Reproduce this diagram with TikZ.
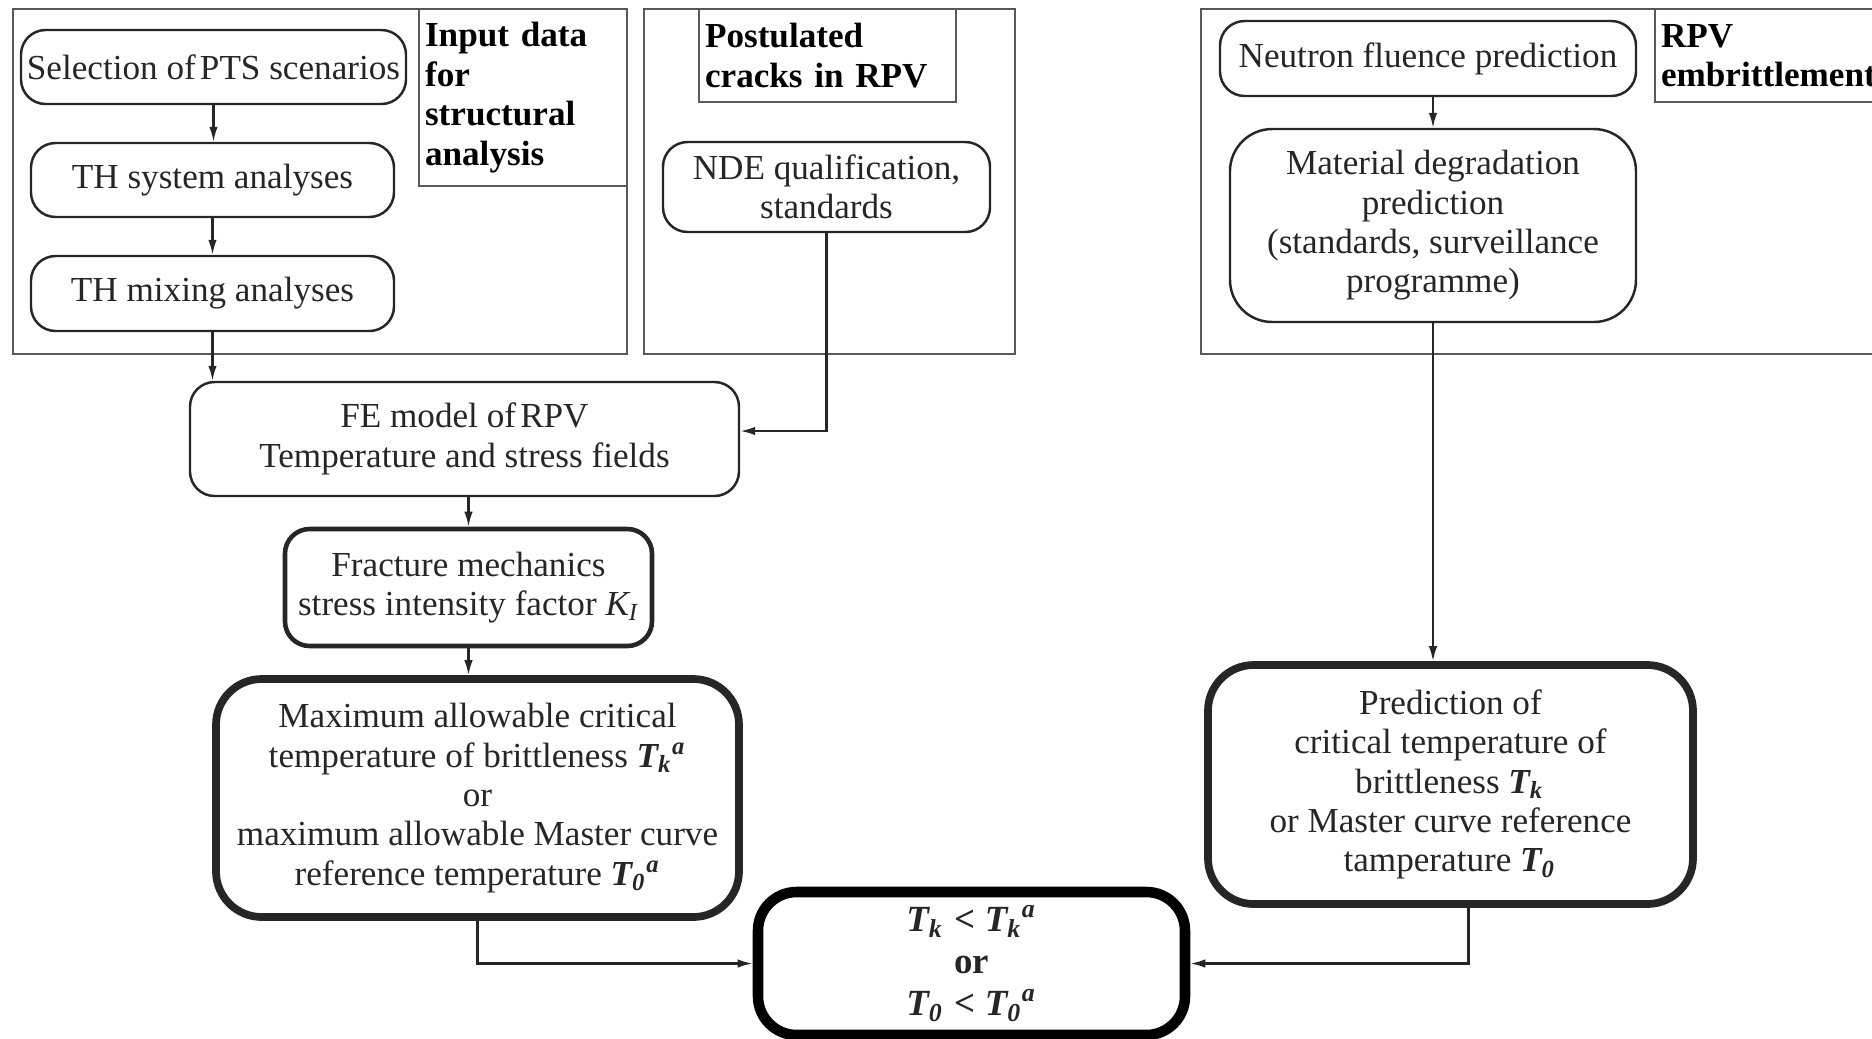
\documentclass[tikz,border=0pt]{standalone}
\usepackage{fontspec}
\setmainfont{Liberation Serif}
\usetikzlibrary{arrows.meta}

\newcommand{\tsym}[2]{\textbf{\textit{T\textsubscript{#1}\textsuperscript{#2}}}}

\tikzset{
  frame/.style={draw=black!65, line width=0.6pt, inner sep=0pt, anchor=north west},
  tag/.style={draw=black!65, line width=0.6pt, anchor=north west, align=left,
    inner xsep=0.06cm, inner ysep=0pt, font=\fontsize{10}{11.3}\selectfont\bfseries},
  procbox/.style={draw=black!85, line width=0.7pt, rounded corners=7pt, align=center,
    inner sep=1pt, text=black!85, font=\fontsize{10}{11.2}\selectfont},
  fmbox/.style={procbox, line width=1.3pt},
  keybox/.style={procbox, line width=2.2pt, rounded corners=13pt},
  resbox/.style={procbox, line width=3pt, rounded corners=11pt, draw=black,
    font=\fontsize{10.5}{12.5}\selectfont\bfseries},
  arr/.style={-{Latex[length=1.5mm,width=0.85mm]}, line width=0.6pt, draw=black!85}
}

\begin{document}
\begin{tikzpicture}
    \useasboundingbox (0,0) rectangle (18.72,-10.38);
    \clip (0,0) rectangle (18.72,-10.38);

    % frames and their titles
    \node[frame, minimum width=6.14cm, minimum height=3.45cm] (InFrame) at (0.12,-0.08) {};
    \node[tag, minimum width=2.08cm, minimum height=1.77cm, text width=1.96cm] (InTag) at (4.18,-0.08)
        {Input data\\for\\structural\\analysis};
    \node[frame, minimum width=3.71cm, minimum height=3.45cm] (CrFrame) at (6.43,-0.08) {};
    \node[tag, minimum width=2.57cm, minimum height=0.93cm, text width=2.45cm] (CrTag) at (6.98,-0.08)
        {Postulated\\cracks in RPV};
    \node[frame, minimum width=7.2cm, minimum height=3.45cm] (EmFrame) at (12.00,-0.08) {};
    \node[tag, minimum width=2.6cm, minimum height=0.93cm, text width=2.48cm] (EmTag) at (16.54,-0.08)
        {RPV\\embrittlement};

    % input data column
    \node[procbox, minimum width=3.85cm, minimum height=0.74cm] (Sel) at (2.135,-0.67) {Selection of\hspace{0.12em}PTS scenarios};
    \node[procbox, minimum width=3.63cm, minimum height=0.74cm] (THs) at (2.125,-1.80) {TH system analyses};
    \node[procbox, minimum width=3.63cm, minimum height=0.75cm] (THm) at (2.125,-2.935) {TH mixing analyses};

    \node[procbox, minimum width=3.27cm, minimum height=0.90cm] (NDE) at (8.265,-1.87) {NDE qualification,\\standards};

    \node[procbox, minimum width=4.16cm, minimum height=0.75cm] (Neut) at (14.28,-0.585) {Neutron fluence prediction};
    \node[procbox, rounded corners=12pt, minimum width=4.06cm, minimum height=1.93cm] (Mat) at (14.33,-2.255)
        {Material degradation\\prediction\\(standards, surveillance\\programme)};

    % analysis chain
    \node[procbox, minimum width=5.49cm, minimum height=1.14cm] (FE) at (4.645,-4.39)
        {FE model of\hspace{0.12em}RPV\\Temperature and stress fields};
    \node[fmbox, minimum width=3.67cm, minimum height=1.17cm] (Frac) at (4.685,-5.875)
        {Fracture mechanics\\stress intensity factor \textit{K\textsubscript{I}}};
    \node[keybox, minimum width=5.23cm, minimum height=2.38cm] (Max) at (4.775,-7.98)
        {Maximum allowable critical\\temperature of brittleness \tsym{k}{a}\\or\\maximum allowable Master curve\\reference temperature \tsym{0}{a}};
    \node[keybox, minimum width=4.85cm, minimum height=2.39cm] (Pred) at (14.505,-7.845)
        {Prediction of\\critical temperature of\\brittleness \tsym{k}{}\\or Master curve reference\\tamperature \tsym{0}{}};
    \node[resbox, minimum width=4.27cm, minimum height=1.43cm] (Res) at (9.715,-9.635)
        {\raisebox{-0.5ex}{\tsym{k}{} < \tsym{k}{a}}\\\raisebox{-0.4ex}{or}\\\raisebox{-0.3ex}{\tsym{0}{} < \tsym{0}{a}}};

    % connectors
    \draw[arr] (Sel.south) -- (Sel.south |- THs.north);
    \draw[arr] (THs.south) -- (THs.south |- THm.north);
    \draw[arr] (THm.south) -- (THm.south |- FE.north);
    \draw[arr] (NDE.south) |- ([yshift=0.08cm]FE.east);
    \draw[arr] (Frac.north |- FE.south) -- (Frac.north);
    \draw[arr] (Frac.south) -- (Frac.south |- Max.north);
    \draw[arr] (Neut.south -| Mat.north) -- (Mat.north);
    \draw[arr] (Mat.south) -- (Mat.south |- Pred.north);
    \draw[arr] (Max.south) |- (Res.west);
    \draw[arr] ([xshift=0.18cm]Pred.south) |- (Res.east);
\end{tikzpicture}
\end{document}
